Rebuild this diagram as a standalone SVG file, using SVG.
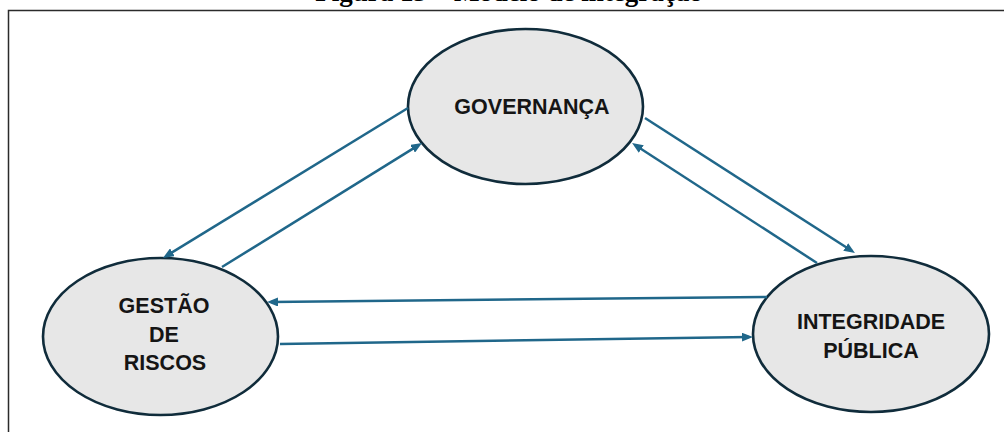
<svg xmlns="http://www.w3.org/2000/svg" width="1004" height="432" viewBox="0 0 1004 432">
  <style>
    .caption { font-family: "Liberation Serif", "Times New Roman", serif; font-weight: bold; font-size: 27px; fill: #000; }
    .frame { stroke: #2b2b2b; stroke-width: 1.5; fill: none; }
    .node ellipse { fill: #e7e7e7; stroke: #102c3b; stroke-width: 2.6; }
    .node text { font-family: "Liberation Sans", Arial, sans-serif; font-weight: bold; font-size: 21.5px; fill: #151515; text-anchor: middle; }
    .link { stroke: #20678a; stroke-width: 2.5; fill: none; marker-end: url(#head); }
  </style>
  <defs>
    <marker id="head" markerUnits="userSpaceOnUse" markerWidth="11" markerHeight="9" refX="7" refY="4.5" orient="auto">
      <path d="M0,0 L11,4.5 L0,9 z" fill="#20678a"/>
    </marker>
  </defs>

  <rect width="1004" height="432" fill="#ffffff"/>

  <!-- caption, running off the top edge -->
  <text class="caption" x="509" y="1" text-anchor="middle">Figura 13 – Modelo de integração</text>

  <!-- figure frame -->
  <path class="frame" d="M8.5,432 L8.5,10.5 L1004,10.5"/>

  <g id="governanca" class="node">
    <ellipse cx="525.5" cy="106.5" rx="117.5" ry="77.5"/>
    <text x="532" y="114">GOVERNANÇA</text>
  </g>

  <g id="gestao-riscos" class="node">
    <ellipse cx="160.5" cy="336.5" rx="117.5" ry="78.5"/>
    <text x="164" y="313">GESTÃO</text>
    <text x="164" y="341.5">DE</text>
    <text x="165" y="370">RISCOS</text>
  </g>

  <g id="integridade-publica" class="node">
    <ellipse cx="871" cy="334" rx="118" ry="78"/>
    <text x="871" y="329">INTEGRIDADE</text>
    <text x="871" y="358">PÚBLICA</text>
  </g>

  <g id="connectors">
    <line class="link" x1="408" y1="108" x2="166.4" y2="255.9"/>
    <line class="link" x1="222" y1="267" x2="418.6" y2="145.1"/>
    <line class="link" x1="645" y1="118" x2="851.6" y2="250.8"/>
    <line class="link" x1="817" y1="263" x2="635.4" y2="145.2"/>
    <line class="link" x1="767" y1="297" x2="271" y2="302"/>
    <line class="link" x1="280" y1="344" x2="749" y2="337"/>
  </g>
</svg>
